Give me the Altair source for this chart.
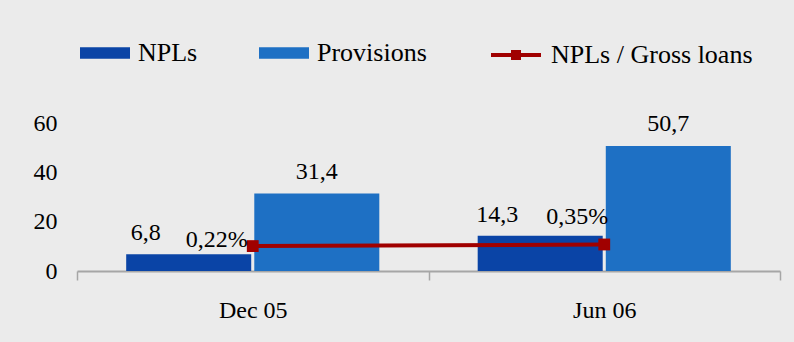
import altair as alt
import pandas as pd

# Periods and series values (EUR mn) with the NPL ratio
periods = ["Dec 05", "Jun 06"]
npls = [6.8, 14.3]
provisions = [31.4, 50.7]
npl_ratio = [0.22, 0.35]

bar_series = ["NPLs", "Provisions"]
bar_colors = ["#0a44a6", "#1e70c4"]
line_series = ["NPLs / Gross loans"]
line_color = "#a00000"

FONT = "Liberation Serif"


def comma(v, digits=1):
    return f"{v:.{digits}f}".replace(".", ",")


bar_rows = []
for p, n, pr in zip(periods, npls, provisions):
    bar_rows.append({"period": p, "series": "NPLs", "value": n, "label": comma(n)})
    bar_rows.append({"period": p, "series": "Provisions", "value": pr, "label": comma(pr)})
bars_df = pd.DataFrame(bar_rows)

ratio_df = pd.DataFrame({
    "period": periods,
    "series": line_series * len(periods),
    "ratio": npl_ratio,
    "label": [comma(r, 2) + "%" for r in npl_ratio],
})

# Legend glyphs: a flat filled box for the bars, a line with a square for the ratio
bar_path = "M-1,-0.23L1,-0.23L1,0.23L-1,0.23Z"
line_path = "M-1,0L1,0M-0.12,-0.12L0.12,-0.12L0.12,0.12L-0.12,0.12Z"

legend_text = dict(
    title=None,
    orient="none",
    direction="horizontal",
    legendY=-95,
    labelFont=FONT,
    labelFontSize=26,
    labelColor="#000000",
    labelOffset=8,
    labelLimit=600,
    symbolSize=2500,
    symbolOpacity=1,
)

bar_color = alt.Color(
    "series:N",
    scale=alt.Scale(domain=bar_series, range=bar_colors),
    legend=alt.Legend(
        legendX=3,
        columnPadding=61,
        symbolType=bar_path,
        symbolStrokeWidth=0,
        **legend_text,
    ),
)

ratio_color = alt.Color(
    "series:N",
    scale=alt.Scale(domain=line_series, range=[line_color]),
    legend=alt.Legend(
        legendX=412,
        symbolType=line_path,
        symbolStrokeWidth=4,
        symbolStrokeColor=line_color,
        symbolFillColor=line_color,
        **legend_text,
    ),
)

x = alt.X(
    "period:N",
    sort=periods,
    scale=alt.Scale(paddingInner=0, paddingOuter=0),
    axis=alt.Axis(
        title=None,
        labelAngle=0,
        labelFont=FONT,
        labelFontSize=24,
        labelColor="#000000",
        labelPadding=18,
        domainColor="#a6a6a6",
        domainWidth=2,
        tickColor="#a6a6a6",
        tickWidth=1.5,
        tickSize=9,
        tickBand="extent",
        grid=False,
    ),
)

x_offset = alt.XOffset(
    "series:N",
    sort=bar_series,
    scale=alt.Scale(paddingInner=0.024, paddingOuter=0.384),
)

y_left = alt.Y(
    "value:Q",
    scale=alt.Scale(domain=[0, 60], nice=False),
    axis=alt.Axis(
        title=None,
        values=[0, 20, 40, 60],
        labelFont=FONT,
        labelFontSize=24,
        labelColor="#000000",
        labelPadding=20,
        ticks=False,
        tickSize=0,
        domain=False,
        grid=False,
    ),
)

bars = alt.Chart(bars_df).mark_bar().encode(
    x=x, xOffset=x_offset, y=y_left, color=bar_color
)

text_style = dict(font=FONT, fontSize=24, color="#000000", baseline="alphabetic")

prov_labels = alt.Chart(bars_df).transform_filter(
    alt.datum.series == "Provisions"
).mark_text(dy=-15, **text_style).encode(
    x=x, xOffset=x_offset, y=y_left, text="label:N"
)

npl_labels = alt.Chart(bars_df).transform_filter(
    alt.datum.series == "NPLs"
).mark_text(dx=-43, dy=-14, **text_style).encode(
    x=x, xOffset=x_offset, y=y_left, text="label:N"
)

# Ratio on its own hidden secondary scale
y_right = alt.Y(
    "ratio:Q",
    scale=alt.Scale(domain=[-1.8, 10.2], nice=False, zero=False),
    axis=None,
)

ratio_line = alt.Chart(ratio_df).mark_line(strokeWidth=4).encode(
    x=x, y=y_right, color=ratio_color
)

ratio_points = alt.Chart(ratio_df).mark_point(
    shape="square", size=140, filled=True, opacity=1, color=line_color
).encode(x=x, y=y_right)

# Ratio labels sit left of the markers: snug beside the first, raised clear of the bar on the second
ratio_label_first = alt.Chart(ratio_df).transform_filter(
    alt.datum.period == periods[0]
).mark_text(align="right", dx=-5, dy=1, **text_style).encode(
    x=x, y=y_right, text="label:N"
)

ratio_label_second = alt.Chart(ratio_df).transform_filter(
    alt.datum.period == periods[1]
).mark_text(align="right", dx=4, dy=-20, **text_style).encode(
    x=x, y=y_right, text="label:N"
)

left_group = alt.layer(bars, prov_labels, npl_labels)
right_group = alt.layer(ratio_line, ratio_points, ratio_label_first, ratio_label_second)

chart = alt.layer(left_group, right_group).resolve_scale(
    y="independent", color="independent"
).properties(
    width=703,
    height=148,
    background="#ebebeb",
    padding={"left": 77, "top": 123, "right": 14, "bottom": 71},
    autosize=alt.AutoSizeParams(type="none"),
).configure_view(stroke=None)

chart.save("out.html", embed_options={"renderer": "svg", "actions": False})
